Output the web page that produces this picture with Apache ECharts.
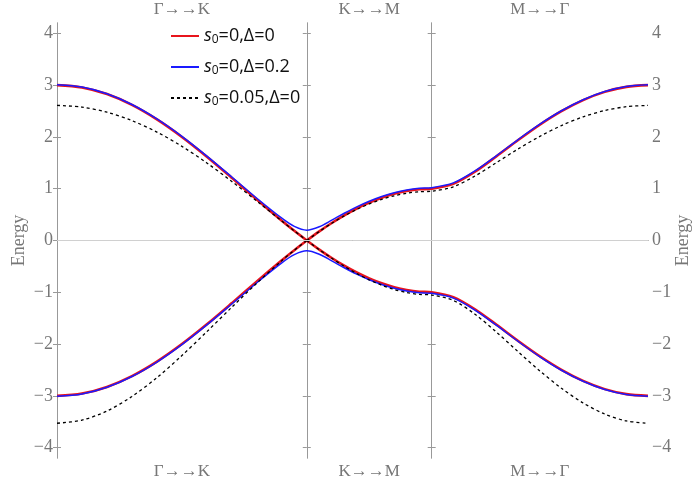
<!DOCTYPE html>
<html>
<head>
<meta charset="utf-8">
<script src="https://cdn.jsdelivr.net/npm/echarts@6/dist/echarts.min.js"></script>
<style>html,body{margin:0;background:#fff}#chart{width:694px;height:489px}</style>
</head>
<body>
<div id="chart"></div>
<script>
// path coordinate: Γ=0, K=1, M=1.5, Γ=2.366
const xGK = [0, 0.1, 0.2, 0.3, 0.4, 0.5, 0.6, 0.7, 0.8, 0.9, 0.95, 1];
const xKG = [1, 1.05, 1.1, 1.15, 1.2, 1.25, 1.3, 1.35, 1.4, 1.45, 1.5,
  1.5866, 1.6732, 1.7598, 1.8464, 1.933, 2.0196, 2.1062, 2.1928, 2.2794, 2.366];
const xAll = [0, 0.1, 0.2, 0.3, 0.4, 0.5, 0.6, 0.7, 0.8, 0.9, 0.95, 1,
  1.05, 1.1, 1.15, 1.2, 1.25, 1.3, 1.35, 1.4, 1.45, 1.5,
  1.5866, 1.6732, 1.7598, 1.8464, 1.933, 2.0196, 2.1062, 2.1928, 2.2794, 2.366];

const pathBreaks = [1, 1.5];
const pathLabelPos = [0.5, 1.25, 1.933];
const pathLabels = ['Γ→→K', 'K→→M', 'M→→Γ'];
const yTicks = [-4, -3, -2, -1, 0, 1, 2, 3, 4];

// s0=0, Δ=0
const redUpGK = [3, 2.956, 2.827, 2.618, 2.338, 2.0, 1.618, 1.209, 0.791, 0.382, 0.187, 0];
const redUpKG = [0, 0.176, 0.338, 0.486, 0.618, 0.732, 0.827, 0.902, 0.956, 0.989, 1,
  1.094, 1.328, 1.628, 1.940, 2.236, 2.497, 2.711, 2.870, 2.967, 3];
const redLoGK = [-3, -2.956, -2.827, -2.618, -2.338, -2.0, -1.618, -1.209, -0.791, -0.382, -0.187, 0];
const redLoKG = [0, -0.176, -0.338, -0.486, -0.618, -0.732, -0.827, -0.902, -0.956, -0.989, -1,
  -1.094, -1.328, -1.628, -1.940, -2.236, -2.497, -2.711, -2.870, -2.967, -3];

// s0=0, Δ=0.2
const blueUp = [3.007, 2.963, 2.834, 2.626, 2.347, 2.010, 1.630, 1.226, 0.816, 0.431, 0.273, 0.2,
  0.266, 0.393, 0.526, 0.650, 0.759, 0.851, 0.924, 0.977, 1.009, 1.020,
  1.112, 1.343, 1.640, 1.950, 2.245, 2.505, 2.719, 2.877, 2.974, 3.007];
const blueLo = [-3.007, -2.963, -2.834, -2.626, -2.347, -2.010, -1.630, -1.226, -0.816, -0.431, -0.273, -0.2,
  -0.266, -0.393, -0.526, -0.650, -0.759, -0.851, -0.924, -0.977, -1.009, -1.020,
  -1.112, -1.343, -1.640, -1.950, -2.245, -2.505, -2.719, -2.877, -2.974, -3.007];

// s0=0.05, Δ=0
const blackUpGK = [2.609, 2.576, 2.477, 2.315, 2.094, 1.818, 1.497, 1.140, 0.761, 0.375, 0.185, 0];
const blackUpKG = [0, 0.174, 0.333, 0.475, 0.600, 0.706, 0.794, 0.863, 0.913, 0.942, 0.952,
  1.037, 1.245, 1.505, 1.769, 2.011, 2.220, 2.388, 2.510, 2.584, 2.609];
const blackLoGK = [-3.529, -3.469, -3.293, -3.012, -2.648, -2.222, -1.760, -1.287, -0.823, -0.389, -0.188, 0];
const blackLoKG = [0, -0.177, -0.344, -0.498, -0.638, -0.760, -0.863, -0.945, -1.004, -1.041, -1.053,
  -1.157, -1.423, -1.772, -2.149, -2.518, -2.854, -3.137, -3.351, -3.484, -3.529];

const legendNames = ['s0=0,Δ=0', 's0=0,Δ=0.2', 's0=0.05,Δ=0'];
const legendRich = ['{i|s}{sub|0}{n|=0,Δ=0}', '{i|s}{sub|0}{n|=0,Δ=0.2}', '{i|s}{sub|0}{n|=0.05,Δ=0}'];

function pairs(xs, ys) {
  return xs.map((x, i) => [x, ys[i]]);
}

const chart = echarts.init(document.getElementById('chart'));

const gridW = 694 - 57 - 46;
const xMax = 2.366;
const frame = '#999';
const serif = 'Liberation Serif';
const labelGrey = '#777';

function numLabel(v) {
  return v < 0 ? '\u2212' + Math.abs(v) : String(v);
}

function pathAxis(pos) {
  return {
    type: 'value', position: pos, min: 0, max: xMax,
    axisLine: { show: true, lineStyle: { color: frame } },
    axisTick: { show: false },
    splitLine: { show: false },
    axisLabel: {
      customValues: pathLabelPos,
      formatter: v => pathLabels[pathLabelPos.indexOf(v)],
      color: labelGrey, fontFamily: serif, fontSize: 17, margin: 5
    }
  };
}

function mainY(pos, gap) {
  return {
    type: 'value', position: pos, min: -4.2, max: 4.2,
    name: 'Energy', nameLocation: 'middle', nameGap: gap, nameMoveOverlap: false,
    nameTextStyle: { color: labelGrey, fontFamily: serif, fontSize: 18 },
    axisLine: { show: true, lineStyle: { color: frame } },
    axisTick: { show: true, inside: true, length: 4, customValues: yTicks, lineStyle: { color: frame } },
    splitLine: { show: false },
    axisLabel: { customValues: yTicks, formatter: numLabel, color: labelGrey, fontFamily: serif, fontSize: 18, margin: 4 }
  };
}

function dividerY(offset, inside) {
  return {
    type: 'value', position: 'left', offset: offset, min: -4.2, max: 4.2,
    axisLine: { show: true, lineStyle: { color: frame } },
    axisTick: { show: true, inside: inside, length: 4, customValues: yTicks, lineStyle: { color: frame } },
    splitLine: { show: false },
    axisLabel: { show: false }
  };
}

function line(name, data, color, width, dashed) {
  return {
    type: 'line', name: name, data: data, smooth: 0.3, symbol: 'none',
    lineStyle: { color: color, width: width, type: dashed ? [3, 3] : 'solid' },
    itemStyle: { color: color },
    silent: true
  };
}

const kOff = -gridW * pathBreaks[0] / xMax;
const mOff = -gridW * pathBreaks[1] / xMax;

const series = [
  line(legendNames[0], pairs(xGK, redUpGK), '#e8141c', 2.6),
  line(legendNames[0], pairs(xKG, redUpKG), '#e8141c', 2.6),
  line(legendNames[0], pairs(xGK, redLoGK), '#e8141c', 2.6),
  line(legendNames[0], pairs(xKG, redLoKG), '#e8141c', 2.6),
  line(legendNames[1], pairs(xAll, blueUp), '#1a1aff', 1.5),
  line(legendNames[1], pairs(xAll, blueLo), '#1a1aff', 1.5),
  line(legendNames[2], pairs(xGK, blackUpGK), '#000', 1.3, true),
  line(legendNames[2], pairs(xKG, blackUpKG), '#000', 1.3, true),
  line(legendNames[2], pairs(xGK, blackLoGK), '#000', 1.3, true),
  line(legendNames[2], pairs(xKG, blackLoKG), '#000', 1.3, true)
];
series[0].markLine = {
  silent: true, symbol: 'none', label: { show: false },
  lineStyle: { color: '#d0d0d0', type: 'solid', width: 1 },
  data: [{ yAxis: 0 }]
};
series[0].z = 1;

chart.setOption({
  animation: false,
  backgroundColor: '#fff',
  grid: { left: 57, right: 46, top: 23, bottom: 31, containLabel: false, outerBoundsMode: 'none' },
  legend: {
    orient: 'vertical', left: 165, top: 22, itemGap: 12,
    itemWidth: 28, itemHeight: 18,
    data: legendNames,
    itemStyle: { opacity: 0, borderWidth: 0 },
    formatter: n => legendRich[legendNames.indexOf(n)],
    textStyle: {
      color: '#111', fontFamily: 'Open Sans', fontSize: 18,
      rich: {
        i: { fontStyle: 'italic', fontFamily: 'Open Sans', fontSize: 18, color: '#111' },
        sub: { fontFamily: 'Open Sans', fontSize: 12, color: '#111', verticalAlign: 'bottom', padding: [8, 0, 0, 0] },
        n: { fontFamily: 'Open Sans', fontSize: 18, color: '#111' }
      }
    }
  },
  xAxis: [pathAxis('bottom'), pathAxis('top')],
  yAxis: [
    mainY('left', 29), mainY('right', 26),
    dividerY(kOff, true), dividerY(kOff, false),
    dividerY(mOff, true), dividerY(mOff, false)
  ],
  series: series
});
</script>
</body>
</html>
